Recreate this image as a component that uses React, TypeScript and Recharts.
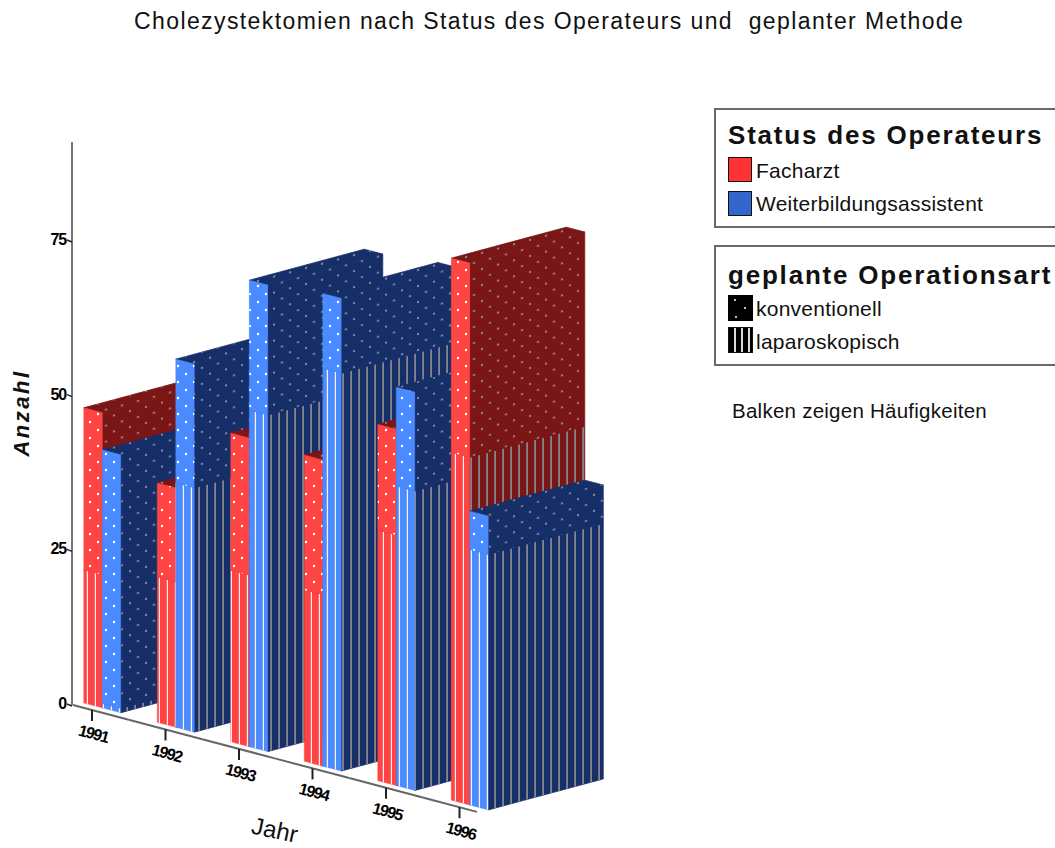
import React from "react";
import { BarChart, Bar, XAxis, YAxis, Label } from "recharts";

const YEARS = ["1991", "1992", "1993", "1994", "1995", "1996"];
const RED_LAP = [21.5, 23.5, 27.7, 27.7, 40.5, 56.2];
const RED_CONV = [26.2, 15.2, 22.2, 21.8, 17.1, 31.4];
const BLUE_LAP = [0.7, 39.5, 54.4, 64.3, 48.4, 41.3];
const BLUE_CONV = [41, 20, 21, 12.1, 16, 6.2];
const Y_TICKS = [0, 25, 50, 75];

const SERIES = [
  { status: "red", method: "lap", values: RED_LAP },
  { status: "red", method: "conv", values: RED_CONV },
  { status: "blue", method: "lap", values: BLUE_LAP },
  { status: "blue", method: "conv", values: BLUE_CONV },
];

const keyOf = (s: { status: string; method: string }, i: number) => `${s.status}_${s.method}_${i}`;

const rows = YEARS.map((year, i) => {
  const row: Record<string, string | number | null> = { year };
  SERIES.forEach((s) => {
    YEARS.forEach((_, j) => {
      row[keyOf(s, j)] = i === j ? s.values[i] : null;
    });
  });
  return row;
});

const COLORS: Record<string, { front: string; side: string }> = {
  red: { front: "#ff4444", side: "#7b1616" },
  blue: { front: "#4a8cff", side: "#172f69" },
};

const SHIFT = -6.25;
const DX = 115;
const DY = -31;
const SLOPE = 0.2645;
const BASE_Y = 705;

const shear = (x: number, y: number) => y + (x - 84) * SLOPE - 2;
const pts = (list: number[][]) => list.map((p) => p.join(",")).join(" ");

function makeShape(status: string, method: string) {
  return (props: any) => {
    const { x, y, width, height } = props;
    if (!height || height <= 0) return <g />;
    const c = COLORS[status];
    const L = x + SHIFT;
    const R = L + width;
    const b = y + height;
    const tl = [L, shear(L, y)];
    const tr = [R, shear(R, y)];
    const br = [R, shear(R, b)];
    const bl = [L, shear(L, b)];
    const front = pts([tl, tr, br, bl]);
    const side = pts([tr, [tr[0] + DX, tr[1] + DY], [br[0] + DX, br[1] + DY], br]);
    const top = pts([tl, [tl[0] + DX, tl[1] + DY], [tr[0] + DX, tr[1] + DY], tr]);
    const frontFill = method === "lap" ? "url(#frontStripes)" : "url(#frontDots)";
    const sideFill = method === "lap" ? "url(#sideStripes)" : "url(#sideDots)";
    return (
      <g>
        <polygon points={top} fill={c.side} stroke={c.side} strokeWidth={0.8} />
        <polygon points={side} fill={c.side} stroke={c.side} strokeWidth={0.8} />
        <polygon points={top} fill="url(#sideDots)" />
        <polygon points={side} fill={sideFill} />
        <polygon points={front} fill={c.front} stroke={c.front} strokeWidth={0.4} />
        <polygon points={front} fill={frontFill} />
      </g>
    );
  };
}

const XTick = (props: any) => {
  const { x, payload } = props;
  const cx = x - 16.75;
  const x1 = Math.max(73, cx - 36.75);
  const x2 = Math.min(477, cx + 36.75);
  const ly = (v: number) => BASE_Y + (v - 73) * SLOPE;
  return (
    <g>
      <line x1={x1} y1={ly(x1)} x2={x2} y2={ly(x2)} stroke="#666" strokeWidth={2} />
      <line x1={cx} y1={ly(cx)} x2={cx} y2={ly(cx) + 11} stroke="#222" strokeWidth={2} />
      <text
        transform={`translate(${cx},${ly(cx) + 29}) rotate(15)`}
        textAnchor="middle"
        fontFamily="'Liberation Sans'"
        fontWeight={700}
        fontSize={16}
        letterSpacing={-1.4}
        fill="#000"
      >
        {payload.value}
      </text>
    </g>
  );
};

const YTick = (props: any) => {
  const { y, payload } = props;
  return (
    <g>
      <line x1={67} y1={y - 1} x2={72} y2={y + 1} stroke="#222" strokeWidth={1.5} />
      <text
        x={66}
        y={y + 4}
        textAnchor="end"
        fontFamily="'Liberation Sans'"
        fontWeight={700}
        fontSize={16}
        letterSpacing={-1.2}
        fill="#000"
      >
        {payload.value}
      </text>
    </g>
  );
};

const abs = (left: number, top: number, extra: React.CSSProperties = {}): React.CSSProperties => ({
  position: "absolute",
  left,
  top,
  whiteSpace: "pre",
  fontFamily: "'Liberation Sans', Arial, sans-serif",
  color: "#111",
  lineHeight: 1,
  ...extra,
});

const legendBox = (top: number, height: number): React.CSSProperties => ({
  position: "absolute",
  left: 714,
  top,
  width: 400,
  height,
  border: "2px solid #6a6a6a",
  boxSizing: "border-box",
});

const itemText: React.CSSProperties = { fontSize: 21, letterSpacing: 0.25 };

const Swatch = ({ top, color }: { top: number; color: string }) => (
  <div
    style={{
      position: "absolute",
      left: 728,
      top,
      width: 24,
      height: 25,
      background: color,
      border: "1px solid #111",
      boxSizing: "border-box",
    }}
  />
);

const DotSwatch = ({ top }: { top: number }) => (
  <svg style={{ position: "absolute", left: 728, top }} width={25} height={26}>
    <rect width={25} height={26} fill="#000" />
    <circle cx={7} cy={5} r={1} fill="#fff" />
    <circle cx={17} cy={13} r={1} fill="#fff" />
    <circle cx={8} cy={22} r={1} fill="#fff" />
  </svg>
);

const StripeSwatch = ({ top }: { top: number }) => (
  <div
    style={{
      position: "absolute",
      left: 728,
      top,
      width: 25,
      height: 26,
      boxSizing: "border-box",
      border: "1px solid #111",
      background: "repeating-linear-gradient(90deg,#000 0,#000 5px,#ddd 5px,#ddd 7px)",
    }}
  />
);

export default function App() {
  return (
    <div style={{ position: "absolute", left: 0, top: 0, width: 1055, height: 848, overflow: "hidden", background: "#fff" }}>
      <BarChart
        width={1055}
        height={848}
        data={rows}
        margin={{ top: 142, left: 0, right: 542, bottom: 142 }}
        barGap={0}
        barSize={18.5}
        style={{ position: "absolute", left: 0, top: 0 }}
      >
        <defs>
          <pattern id="frontDots" width={16} height={16} patternUnits="userSpaceOnUse">
            <circle cx={10} cy={6} r={1.2} fill="#ffffff" />
            <circle cx={2} cy={14} r={1.2} fill="#ffffff" />
          </pattern>
          <pattern id="sideDots" width={16} height={16} patternUnits="userSpaceOnUse" patternTransform="skewY(-15)">
            <circle cx={10} cy={6} r={1.1} fill="#a0a0aa" />
            <circle cx={2} cy={14} r={1.1} fill="#a0a0aa" />
          </pattern>
          <pattern id="frontStripes" width={8} height={8} patternUnits="userSpaceOnUse">
            <rect x={6.8} y={0} width={1.8} height={8} fill="#ffeeee" />
          </pattern>
          <pattern id="sideStripes" width={8} height={8} patternUnits="userSpaceOnUse">
            <rect x={6.2} y={0} width={1.8} height={8} fill="#84848c" />
          </pattern>
        </defs>
        <XAxis
          dataKey="year"
          type="category"
          interval={0}
          height={1}
          tickSize={0}
          axisLine={false}
          tickLine={false}
          tick={<XTick />}
        >
          <Label
            content={() => (
              <text
                transform="translate(273,838) rotate(12)"
                textAnchor="middle"
                fontFamily="'Liberation Sans'"
                fontSize={24}
                fill="#111"
              >
                Jahr
              </text>
            )}
          />
        </XAxis>
        <YAxis
          type="number"
          domain={[0, 91]}
          ticks={Y_TICKS}
          width={72}
          tickSize={0}
          axisLine={{ stroke: "#777", strokeWidth: 2 }}
          tickLine={false}
          tick={<YTick />}
        >
          <Label
            content={() => (
              <text
                transform="translate(29,413) rotate(-90)"
                textAnchor="middle"
                fontFamily="'Liberation Sans'"
                fontStyle="italic"
                fontWeight={700}
                fontSize={22}
                letterSpacing={2.5}
                fill="#111"
              >
                Anzahl
              </text>
            )}
          />
        </YAxis>
        {YEARS.flatMap((_, i) =>
          SERIES.map((s) => (
            <Bar
              key={keyOf(s, i)}
              dataKey={keyOf(s, i)}
              stackId={s.status}
              isAnimationActive={false}
              shape={makeShape(s.status, s.method)}
            />
          ))
        )}
      </BarChart>

      <div style={abs(134, 10, { fontSize: 23, letterSpacing: 1.4 })}>
        {"Cholezystektomien nach Status des Operateurs und  geplanter Methode"}
      </div>

      <div style={legendBox(108, 120)} />
      <div style={abs(728, 122, { fontSize: 26, fontWeight: 700, letterSpacing: 1.8 })}>Status des Operateurs</div>
      <Swatch top={157} color="#ff3333" />
      <div style={abs(756, 160, itemText)}>Facharzt</div>
      <Swatch top={191} color="#3366cc" />
      <div style={abs(756, 193, itemText)}>Weiterbildungsassistent</div>

      <div style={legendBox(245, 121)} />
      <div style={abs(728, 262, { fontSize: 26, fontWeight: 700, letterSpacing: 1.8 })}>geplante Operationsart</div>
      <DotSwatch top={295} />
      <div style={abs(756, 298, itemText)}>konventionell</div>
      <StripeSwatch top={327} />
      <div style={abs(756, 331, itemText)}>laparoskopisch</div>

      <div style={abs(732, 401, { fontSize: 20.5, letterSpacing: 0.25 })}>Balken zeigen Häufigkeiten</div>
    </div>
  );
}
